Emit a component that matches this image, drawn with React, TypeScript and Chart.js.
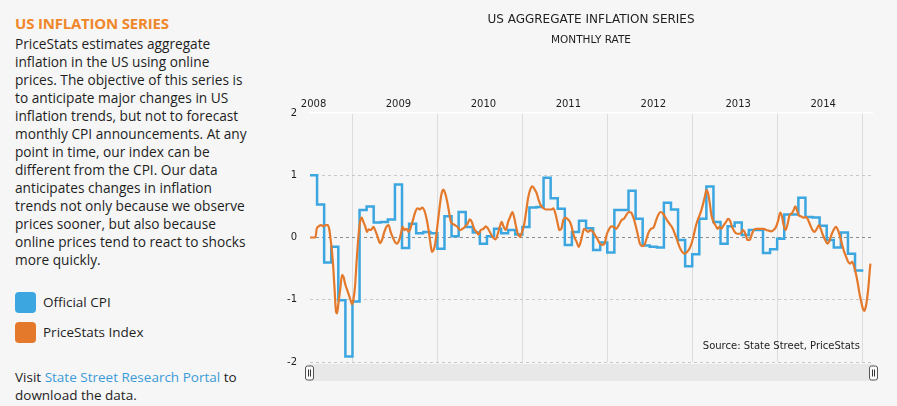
import React, { useEffect, useRef } from 'react';
import { Chart, registerables } from 'chart.js';

Chart.register(...registerables);

// ---------- data ----------
// x unit: months since 1 Jan 2008. CPI monthly change (%) Jun 2008 .. Dec 2014,
// each value held from the start of the following month.
const cpiStartMonth = 6;
const cpiValues = [
  1.0, 0.53, -0.4, -0.15, -1.01, -1.91, -1.03,
  0.44, 0.5, 0.24, 0.25, 0.29, 0.85, -0.17, 0.22, 0.07, 0.09, 0.07, -0.18,
  0.34, 0.02, 0.41, 0.17, 0.08, -0.1, 0.02, 0.14, 0.07, 0.12, 0.05, 0.17,
  0.48, 0.49, 0.96, 0.63, 0.46, -0.12, 0.09, 0.27, 0.15, -0.2, -0.08, -0.24,
  0.44, 0.44, 0.75, 0.3, -0.13, -0.15, -0.16, 0.56, 0.45, -0.04, -0.46, -0.27,
  0.3, 0.82, 0.25, -0.1, 0.18, 0.24, 0.04, 0.12, 0.12, -0.25, -0.19, -0.02,
  0.37, 0.37, 0.64, 0.33, 0.32, 0.19, -0.04, -0.16, 0.08, -0.26, -0.53, -0.55,
];

// PriceStats index, monthly rate (%), read at irregular dates
const psMonths = [
  6.0, 6.77, 6.95, 7.24, 7.57, 7.89, 8.27, 8.51, 8.74, 8.98, 9.21, 9.45, 9.68, 9.82, 10.01, 10.25, 10.53, 10.72,
  11.0, 11.33, 11.66, 11.94, 12.13, 12.36, 12.6, 12.83, 13.07, 13.3, 13.54, 13.82, 14.05, 14.29, 14.62, 14.95,
  15.23, 15.56, 15.89, 16.17, 16.5, 16.83, 17.11, 17.39, 17.67, 18.0, 18.29, 18.61, 18.9, 19.08, 19.32, 19.65,
  19.93, 20.26, 20.59, 20.87, 21.2, 21.53, 21.81, 22.14, 22.47, 22.75, 22.99, 23.22, 23.46, 23.69, 23.93, 24.26,
  24.54, 24.82, 25.1, 25.43, 25.67, 25.9, 26.14, 26.46, 26.84, 27.22, 27.55, 27.87, 28.25, 28.58, 28.86, 29.19,
  29.52, 29.8, 30.13, 30.51, 30.84, 31.17, 31.54, 31.87, 32.25, 32.48, 32.81, 33.09, 33.33, 33.66, 33.99, 34.27,
  34.6, 34.83, 35.12, 35.4, 35.68, 35.96, 36.24, 36.53, 36.81, 37.09, 37.42, 37.75, 38.03, 38.31, 38.59, 38.97,
  39.35, 39.77, 40.1, 40.38, 40.66, 40.95, 41.23, 41.51, 41.79, 42.12, 42.45, 42.73, 42.97, 43.2, 43.44, 43.67,
  43.95, 44.24, 44.47, 44.71, 44.99, 45.27, 45.65, 45.98, 46.26, 46.59, 46.91, 47.29, 47.62, 47.9, 48.23, 48.56,
  48.94, 49.27, 49.64, 50.02, 50.35, 50.68, 51.05, 51.38, 51.66, 51.99, 52.32, 52.6, 52.93, 53.26, 53.54, 53.87,
  54.2, 54.58, 54.91, 55.19, 55.52, 55.85, 56.22, 56.6, 56.93, 57.26, 57.54, 57.87, 58.2, 58.57, 58.95, 59.28,
  59.61, 59.89, 60.22, 60.55, 60.83, 61.16, 61.49, 61.77, 62.01, 62.24, 62.48, 62.71, 62.99, 63.28, 63.56, 63.84,
  64.12, 64.45, 64.78, 65.06, 65.34, 65.63, 66.0, 66.33, 66.8, 67.18, 67.51, 67.83, 68.12, 68.45, 68.77, 69.15,
  69.62, 70.09, 70.47, 70.8, 71.17, 71.5, 71.83, 72.16, 72.44, 72.68, 72.91, 73.19, 73.48, 73.76, 74.09, 74.32,
  74.56, 74.79, 75.03, 75.36, 75.73, 76.06, 76.34, 76.67, 77.0, 77.28, 77.61, 77.9, 78.18, 78.46, 78.79, 79.12,
  79.4, 79.73, 80.06, 80.34, 80.62, 80.9, 81.19, 81.47, 81.75, 82.03, 82.31, 82.6, 82.88, 83.16, 83.4, 83.63,
  83.87, 84.1, 84.29, 84.53, 84.71, 84.9, 85.09, 85.18,
];
const psValues = [
  0, 0, 0.14, 0.18, 0.2, 0.18, 0.2, 0.2, 0.12, -0.1, -0.36, -0.79, -1.19, -1.22, -1.06, -0.85, -0.6, -0.63,
  -0.76, -0.87, -0.98, -1.07, -1.0, -0.79, -0.36, 0.0, 0.25, 0.32, 0.25, 0.17, 0.09, 0.13, 0.12, 0.17,
  0.11, 0.01, -0.09, -0.04, 0.09, 0.18, 0.2, 0.09, 0.01, -0.07, -0.1, -0.04, 0.09, 0.17, 0.12, 0.14,
  0.09, 0.17, 0.3, 0.41, 0.47, 0.45, 0.48, 0.44, 0.3, 0.12, -0.07, -0.23, -0.2, -0.1, 0.12, 0.44,
  0.68, 0.77, 0.71, 0.55, 0.39, 0.25, 0.22, 0.2, 0.17, 0.12, 0.14, 0.17, 0.22, 0.29, 0.25, 0.14,
  0.09, 0.05, 0.12, 0.14, 0.18, 0.14, 0.06, 0.0, -0.03, 0.04, 0.17, 0.25, 0.18, 0.12, 0.25, 0.33,
  0.41, 0.33, 0.17, 0.05, 0.01, 0.09, 0.2, 0.41, 0.63, 0.76, 0.82, 0.77, 0.71, 0.6, 0.52, 0.47,
  0.45, 0.45, 0.45, 0.47, 0.39, 0.25, 0.12, 0.14, 0.28, 0.32, 0.29, 0.25, 0.17, 0.06, -0.02, -0.07,
  -0.15, -0.07, 0.04, 0.14, 0.12, 0.09, 0.12, 0.09, 0.04, -0.02, -0.09, -0.12, -0.1, 0.04, 0.13, 0.18,
  0.17, 0.14, 0.2, 0.28, 0.3, 0.36, 0.41, 0.4, 0.33, 0.2, 0.04, -0.1, -0.14, -0.12, -0.02, 0.09,
  0.14, 0.17, 0.28, 0.36, 0.41, 0.39, 0.32, 0.25, 0.2, 0.14, 0.06, -0.04, -0.15, -0.23, -0.26, -0.23,
  -0.18, -0.1, 0.04, 0.2, 0.3, 0.39, 0.52, 0.65, 0.76, 0.71, 0.55, 0.36, 0.25, 0.2, 0.14, 0.17,
  0.14, 0.2, 0.25, 0.3, 0.27, 0.17, 0.09, 0.06, 0.06, 0.12, 0.06, -0.04, -0.04, 0.06, 0.13, 0.14,
  0.14, 0.14, 0.12, 0.11, 0.1, 0.12, 0.17, 0.28, 0.4, 0.34, 0.2, 0.12, 0.22, 0.36, 0.39, 0.44,
  0.5, 0.44, 0.36, 0.34, 0.32, 0.33, 0.29, 0.2, 0.12, 0.09, 0.14, 0.2, 0.13, 0.04, -0.04, -0.1,
  -0.05, 0.06, 0.14, 0.17, 0.11, 0.01, -0.12, -0.23, -0.31, -0.39, -0.42, -0.39, -0.47, -0.6, -0.74, -0.9,
  -1.03, -1.14, -1.18, -1.11, -0.98, -0.79, -0.52, -0.42,
];

const yearLabels = ['2008', '2009', '2010', '2011', '2012', '2013', '2014'];
const yearLabelMonths = [6.5, 18.5, 30.5, 42.5, 54.5, 66.5, 78.5];
const yearBoundaryMonths = [12, 24, 36, 48, 60, 72, 84];

const seriesNames = ['Official CPI', 'PriceStats Index'];
const chartTitle = 'US AGGREGATE INFLATION SERIES';
const chartSubtitle = 'MONTHLY RATE';
const sourceNote = 'Source: State Street, PriceStats';

const panelTitle = 'US INFLATION SERIES';
const introLines = [
  'PriceStats estimates aggregate',
  'inflation in the US using online',
  'prices. The objective of this series is',
  'to anticipate major changes in US',
  'inflation trends, but not to forecast',
  'monthly CPI announcements. At any',
  'point in time, our index can be',
  'different from the CPI. Our data',
  'anticipates changes in inflation',
  'trends not only because we observe',
  'prices sooner, but also because',
  'online prices tend to react to shocks',
  'more quickly.',
];

// ---------- styles ----------
const BG = '#f6f6f6';
const CPI_COLOR = '#3ba6df';
const PS_COLOR = '#e4792c';
const AXIS_FONT = '"DejaVu Sans", Verdana, sans-serif';
const TEXT_FONT = '"Open Sans", "Noto Sans", sans-serif';

const decorPlugin = {
  id: 'decor',
  afterDraw(chart: any) {
    const { ctx, chartArea: a } = chart;
    const cx = (a.left + a.right) / 2;
    ctx.save();
    ctx.fillStyle = '#1e1e1e';
    ctx.textAlign = 'center';
    ctx.textBaseline = 'middle';
    ctx.font = `12px ${AXIS_FONT}`;
    ctx.fillText(chartTitle, cx, 20);
    ctx.font = `10.5px ${AXIS_FONT}`;
    ctx.fillText(chartSubtitle, cx, 40);

    ctx.font = `10px ${AXIS_FONT}`;
    ctx.textAlign = 'right';
    ctx.fillText(sourceNote, a.right - 12, a.bottom - 16);

    // scrollbar
    const top = a.bottom + 2;
    const h = 17;
    ctx.fillStyle = '#e8e8e8';
    ctx.fillRect(a.left - 2, top, a.right - a.left + 4, h);
    const handle = (x: number) => {
      const w = 8, hh = 14, y = top + (h - hh) / 2;
      ctx.beginPath();
      ctx.roundRect(x - w / 2 + 0.5, y + 0.5, w, hh, 2);
      ctx.fillStyle = '#fafafa';
      ctx.fill();
      ctx.strokeStyle = '#555';
      ctx.lineWidth = 1;
      ctx.stroke();
      ctx.beginPath();
      ctx.moveTo(x - 0.5, y + 4);
      ctx.lineTo(x - 0.5, y + hh - 3);
      ctx.moveTo(x + 1.5, y + 4);
      ctx.lineTo(x + 1.5, y + hh - 3);
      ctx.strokeStyle = '#333';
      ctx.stroke();
    };
    handle(a.left - 1);
    handle(a.right + 1);
    ctx.restore();
  },
};

function InflationChart() {
  const ref = useRef<HTMLCanvasElement | null>(null);
  useEffect(() => {
    if (!ref.current) return;
    const cpiData = cpiValues.map((v, i) => ({ x: cpiStartMonth + i, y: v }));
    const psData = psMonths.map((m, i) => ({ x: m, y: psValues[i] }));
    const chart = new Chart(ref.current, {
      type: 'line',
      data: {
        datasets: [
          {
            label: seriesNames[1],
            data: psData,
            borderColor: PS_COLOR,
            borderWidth: 2.2,
            pointRadius: 0,
            cubicInterpolationMode: 'monotone',
            order: 0,
          },
          {
            label: seriesNames[0],
            data: cpiData,
            borderColor: CPI_COLOR,
            borderWidth: 2.5,
            pointRadius: 0,
            stepped: true,
            order: 1,
          },
        ],
      },
      options: {
        animation: false,
        responsive: false,
        devicePixelRatio: 1,
        layout: { padding: { left: 0, right: 25, top: 93, bottom: 44 } },
        plugins: {
          legend: { display: false },
          title: { display: false },
          tooltip: { enabled: false },
        },
        scales: {
          x: {
            type: 'linear',
            position: 'top',
            min: 6,
            max: 85.4,
            afterBuildTicks: (scale: any) => {
              scale.ticks = [...yearBoundaryMonths, ...yearLabelMonths]
                .sort((p, q) => p - q)
                .map((v) => ({ value: v }));
            },
            afterFit: (scale: any) => {
              scale.height = 20;
            },
            grid: {
              drawTicks: false,
              color: (c: any) =>
                c.tick && yearBoundaryMonths.includes(c.tick.value) ? '#dcdcdc' : 'rgba(0,0,0,0)',
              lineWidth: 1,
            },
            border: { display: true, color: '#ffffff', width: 1.5 },
            ticks: {
              autoSkip: false,
              maxRotation: 0,
              padding: 3,
              color: '#1e1e1e',
              font: { family: AXIS_FONT, size: 10 },
              callback: (v: any) => {
                const k = yearLabelMonths.indexOf(Number(v));
                return k >= 0 ? yearLabels[k] : '';
              },
            },
          },
          y: {
            min: -2,
            max: 2,
            afterFit: (scale: any) => {
              scale.width = 30;
            },
            grid: {
              drawTicks: false,
              color: (c: any) => {
                const v = c.tick ? c.tick.value : 1;
                if (v === 2) return 'rgba(0,0,0,0)';
                if (v === 0) return '#8c8c8c';
                return '#c8c8c8';
              },
              lineWidth: 1,
            },
            border: { display: false, dash: [3, 3] },
            ticks: {
              stepSize: 1,
              padding: 13,
              color: '#1e1e1e',
              font: { family: AXIS_FONT, size: 10 },
              callback: (v: any) => String(v),
            },
          },
        },
      },
      plugins: [decorPlugin],
    } as any);
    return () => chart.destroy();
  }, []);
  return (
    <canvas
      ref={ref}
      width={617}
      height={406}
      style={{ position: 'absolute', left: 280, top: 0, width: 617, height: 406 }}
    />
  );
}

export default function App() {
  const legendItem = (top: number, color: string, text: string) => (
    <div style={{ position: 'absolute', left: 15, top, height: 22, display: 'flex', alignItems: 'center' }}>
      <div style={{ width: 21, height: 21, borderRadius: 4, background: color }} />
      <span style={{ marginLeft: 7, fontSize: 13.5, color: '#1e1e1e' }}>{text}</span>
    </div>
  );
  return (
    <div
      style={{
        position: 'fixed',
        left: 0,
        top: 0,
        width: 897,
        height: 406,
        background: BG,
        fontFamily: TEXT_FONT,
        overflow: 'hidden',
      }}
    >
      <div
        style={{
          position: 'absolute',
          left: 15,
          top: 14,
          fontWeight: 700,
          fontSize: 15,
          lineHeight: '19px',
          color: '#f0872a',
          letterSpacing: -0.2,
        }}
      >
        {panelTitle}
      </div>
      <div
        style={{
          position: 'absolute',
          left: 15,
          top: 35,
          fontSize: 13.7,
          lineHeight: '18px',
          color: '#1e1e1e',
          whiteSpace: 'nowrap',
        }}
      >
        {introLines.map((l, i) => (
          <div key={i}>{l}</div>
        ))}
      </div>
      {legendItem(291, CPI_COLOR, seriesNames[0])}
      {legendItem(321, PS_COLOR, seriesNames[1])}
      <div
        style={{
          position: 'absolute',
          left: 15,
          top: 368,
          fontSize: 13.5,
          lineHeight: '18px',
          color: '#1e1e1e',
        }}
      >
        <div>
          Visit <span style={{ color: '#3b9bd8' }}>State Street Research Portal</span> to
        </div>
        <div>download the data.</div>
      </div>
      <InflationChart />
    </div>
  );
}
